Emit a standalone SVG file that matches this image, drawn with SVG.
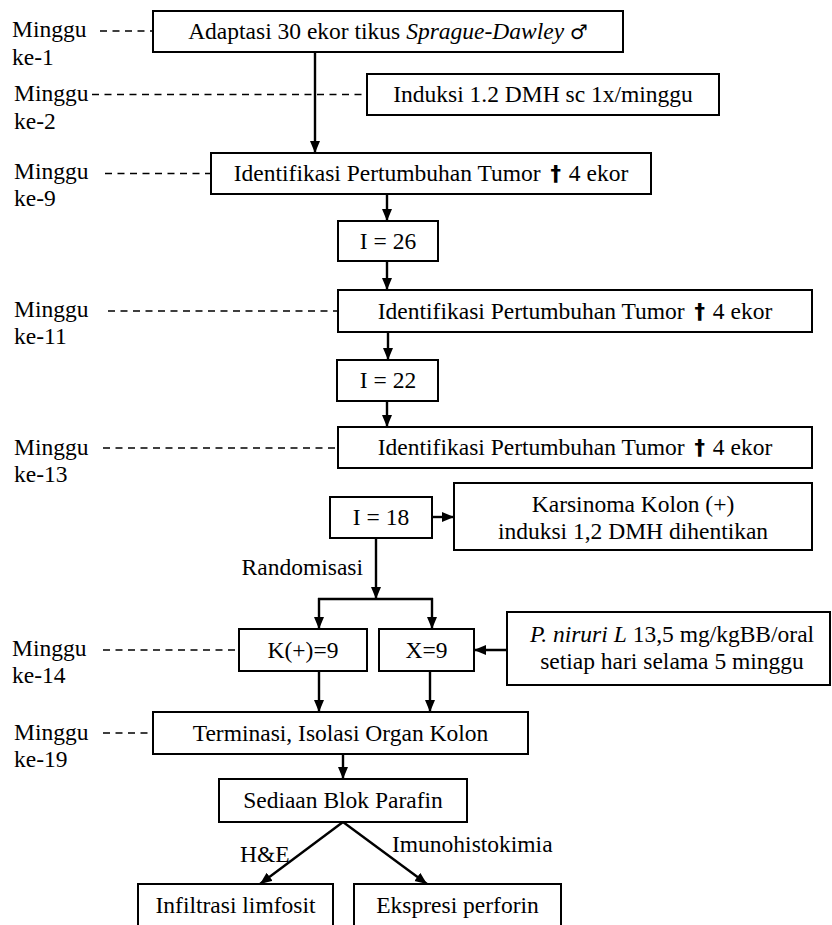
<svg xmlns="http://www.w3.org/2000/svg" width="832" height="925" viewBox="0 0 832 925" font-family="Liberation Serif, Tinos, DejaVu Serif, serif">
<defs>
<style>
.box{fill:#fff;stroke:#000;stroke-width:2}
text{font-family:"Liberation Serif",Tinos,"DejaVu Serif",serif;font-size:23.5px;fill:#000}
.c{text-anchor:middle}
.dash{stroke:#000;stroke-width:1.6;stroke-dasharray:7 5.5;fill:none}
.ln{stroke:#000;stroke-width:2.4;fill:none}
.arr{stroke:#000;stroke-width:2.4;fill:none;marker-end:url(#ah)}
.dg{font-family:"DejaVu Sans",sans-serif;font-weight:bold;font-size:21px}
.sym{font-family:"DejaVu Sans",sans-serif;font-weight:normal;font-size:20px}
</style>
<marker id="ah" markerUnits="userSpaceOnUse" markerWidth="14" markerHeight="12" refX="12" refY="5" orient="auto">
<path d="M0,0 L12,5 L0,10 z" fill="#000"/>
</marker>
</defs>
<rect width="832" height="925" fill="#fff"/>

<g id="labels">
<text x="12" y="37">Minggu</text><text x="12" y="65">ke-1</text>
<text x="14" y="101">Minggu</text><text x="14" y="129">ke-2</text>
<text x="14" y="179">Minggu</text><text x="14" y="206">ke-9</text>
<text x="14" y="317">Minggu</text><text x="14" y="344">ke-11</text>
<text x="14" y="455">Minggu</text><text x="14" y="482">ke-13</text>
<text x="12" y="656">Minggu</text><text x="12" y="683">ke-14</text>
<text x="14" y="740">Minggu</text><text x="14" y="767">ke-19</text>
</g>

<g id="connectors">
<line class="dash" x1="100" y1="31" x2="153" y2="31"/>
<line class="dash" x1="92" y1="94.5" x2="367" y2="94.5"/>
<line class="dash" x1="105" y1="173.5" x2="211" y2="173.5"/>
<line class="dash" x1="108" y1="311" x2="338" y2="311"/>
<line class="dash" x1="103" y1="448" x2="338" y2="448"/>
<line class="dash" x1="103" y1="650" x2="239" y2="650"/>
<line class="dash" x1="103" y1="733" x2="153" y2="733"/>

<line class="arr" x1="315" y1="52" x2="315" y2="153"/>
<line class="arr" x1="387" y1="194" x2="387" y2="221"/>
<line class="arr" x1="387" y1="261" x2="387" y2="290"/>
<line class="arr" x1="388" y1="332" x2="388" y2="360"/>
<line class="arr" x1="387" y1="401" x2="387" y2="427"/>
<line class="arr" x1="432" y1="517" x2="454" y2="517"/>
<line class="arr" x1="376" y1="538" x2="376" y2="599"/>
<line class="ln" x1="318" y1="599" x2="433" y2="599"/>
<line class="arr" x1="319" y1="598" x2="319" y2="629"/>
<line class="arr" x1="432" y1="598" x2="432" y2="629"/>
<line class="arr" x1="507" y1="650" x2="474" y2="650"/>
<line class="arr" x1="319" y1="671" x2="319" y2="712"/>
<line class="arr" x1="430" y1="671" x2="430" y2="712"/>
<line class="arr" x1="343" y1="754" x2="343" y2="779"/>
<line class="arr" x1="343" y1="822" x2="260" y2="884"/>
<line class="arr" x1="343" y1="822" x2="427" y2="884"/>
<text x="240" y="862">H&amp;E</text>
<text x="392" y="852">Imunohistokimia</text>
<text x="363" y="575" text-anchor="end">Randomisasi</text>
</g>

<g id="n-adaptasi">
<rect class="box" x="153" y="11" width="470" height="41"/>
<text class="c" x="388" y="39">Adaptasi 30 ekor tikus <tspan font-style="italic">Sprague-Dawley</tspan> <tspan class="sym">♂</tspan></text>
</g>
<g id="n-induksi">
<rect class="box" x="367" y="74" width="352" height="41"/>
<text class="c" x="543" y="102">Induksi 1.2 DMH sc 1x/minggu</text>
</g>
<g id="n-ident1">
<rect class="box" x="211" y="153" width="440" height="41"/>
<text class="c" x="431" y="181">Identifikasi Pertumbuhan Tumor <tspan class="dg" dx="4">†</tspan> <tspan dx="2">4 ekor</tspan></text>
</g>
<g id="n-i26">
<rect class="box" x="338" y="221" width="100" height="40"/>
<text class="c" x="388" y="249">I = 26</text>
</g>
<g id="n-ident2">
<rect class="box" x="338" y="290" width="474" height="42"/>
<text class="c" x="575" y="319">Identifikasi Pertumbuhan Tumor <tspan class="dg" dx="4">†</tspan> <tspan dx="2">4 ekor</tspan></text>
</g>
<g id="n-i22">
<rect class="box" x="337" y="360" width="101" height="41"/>
<text class="c" x="388" y="388">I = 22</text>
</g>
<g id="n-ident3">
<rect class="box" x="338" y="427" width="474" height="41"/>
<text class="c" x="575" y="455">Identifikasi Pertumbuhan Tumor <tspan class="dg" dx="4">†</tspan> <tspan dx="2">4 ekor</tspan></text>
</g>
<g id="n-i18">
<rect class="box" x="330" y="497" width="102" height="41"/>
<text class="c" x="381" y="525">I = 18</text>
</g>
<g id="n-karsinoma">
<rect class="box" x="454" y="483" width="358" height="67"/>
<text class="c" x="633" y="512">Karsinoma Kolon (+)</text>
<text class="c" x="633" y="539">induksi 1,2 DMH dihentikan</text>
</g>
<g id="n-kplus">
<rect class="box" x="239" y="629" width="128" height="42"/>
<text class="c" x="303" y="658">K(+)=9</text>
</g>
<g id="n-x9">
<rect class="box" x="379" y="629" width="95" height="42"/>
<text class="c" x="426.5" y="658">X=9</text>
</g>
<g id="n-pniruri">
<rect class="box" x="507" y="612" width="323" height="73"/>
<text class="c" x="672" y="642"><tspan font-style="italic">P. niruri L</tspan> 13,5 mg/kgBB/oral</text>
<text class="c" x="672" y="669">setiap hari selama 5 minggu</text>
</g>
<g id="n-terminasi">
<rect class="box" x="153" y="712" width="375" height="42"/>
<text class="c" x="340.5" y="741">Terminasi, Isolasi Organ Kolon</text>
</g>
<g id="n-sediaan">
<rect class="box" x="219" y="779" width="248" height="43"/>
<text class="c" x="343" y="808">Sediaan Blok Parafin</text>
</g>
<g id="n-infiltrasi">
<rect class="box" x="138" y="884" width="195" height="60"/>
<text class="c" x="235.5" y="913">Infiltrasi limfosit</text>
</g>
<g id="n-ekspresi">
<rect class="box" x="354" y="884" width="207" height="60"/>
<text class="c" x="457.5" y="913">Ekspresi perforin</text>
</g>
</svg>
